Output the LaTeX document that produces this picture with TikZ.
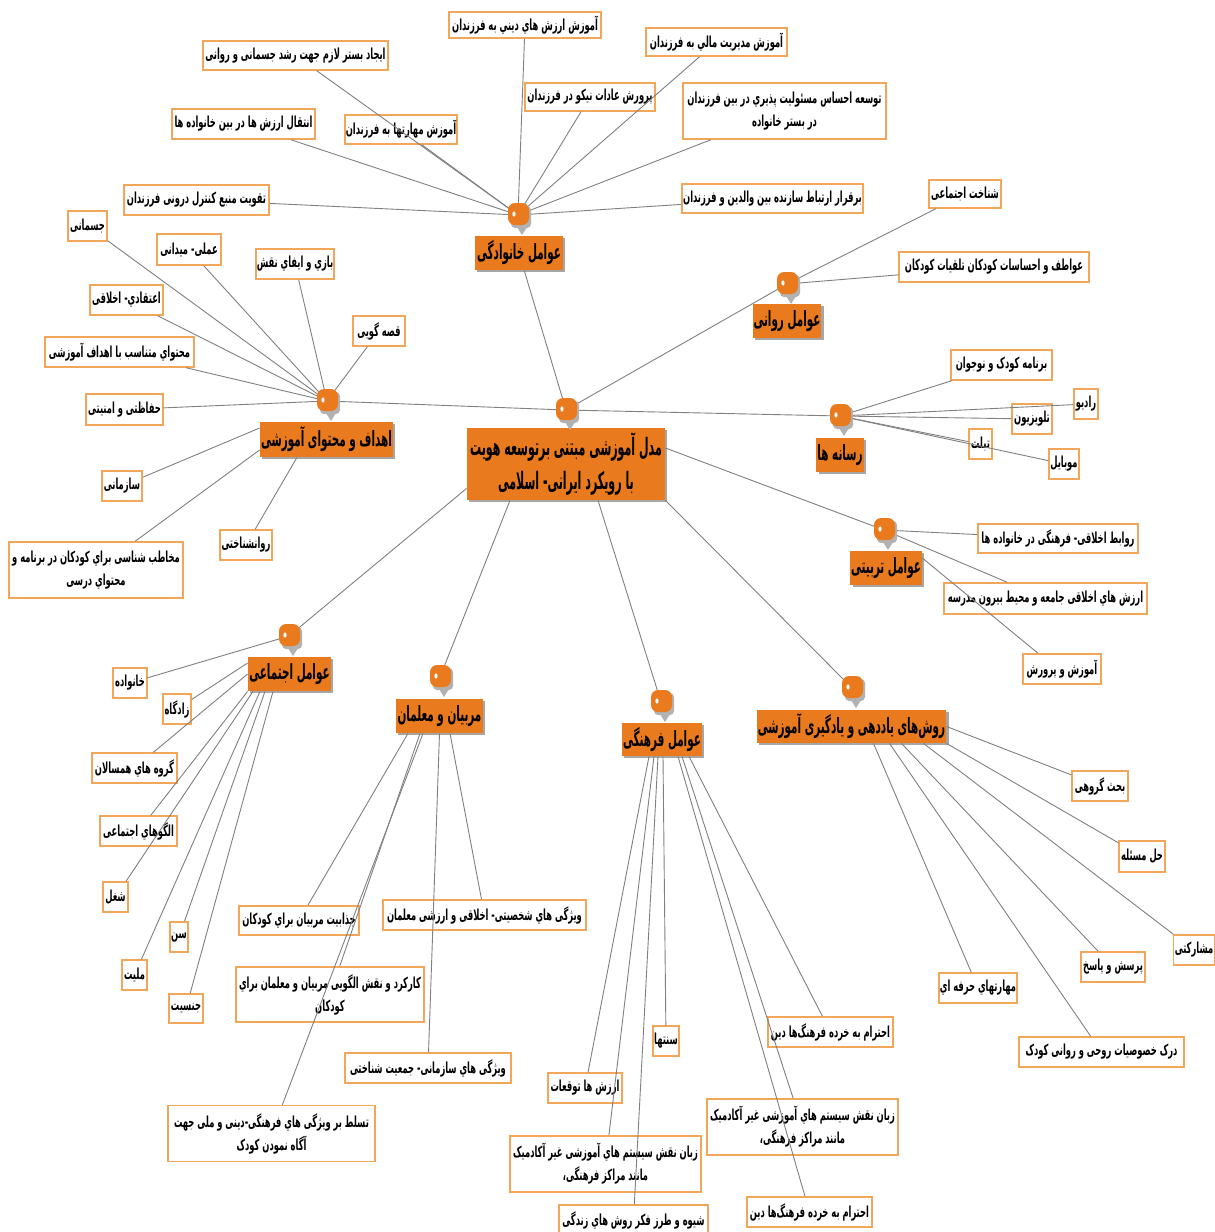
\documentclass[tikz,border=0pt]{standalone}
\usepackage{fontspec}
\newfontfamily\farsiL[Script=Arabic,FakeStretch=0.55]{DejaVu Sans}
\newfontfamily\farsiT[Script=Arabic,FakeStretch=0.495]{DejaVu Sans}
\newfontfamily\farsiM[Script=Arabic,FakeStretch=0.46]{DejaVu Sans}
\TeXXeTstate=1
\usetikzlibrary{shadows}
\definecolor{mainor}{HTML}{E97A1E}
\definecolor{leafor}{HTML}{F2A65A}
\definecolor{connc}{HTML}{808080}
\newcommand\pfa[1]{\beginR#1\endR}
\tikzset{
 leaf/.style={draw=leafor, fill=white, line width=0.75pt, inner sep=0.5pt, font=\farsiL\bfseries\fontsize{7.6}{11.5}\selectfont, align=center},
 topic/.style={fill=mainor, inner sep=0.5pt, font=\farsiT\bfseries\fontsize{10.5}{12}\selectfont, align=center, drop shadow={shadow xshift=1.2pt, shadow yshift=-1.2pt, fill=black!35, opacity=1}},
 sz/.style 2 args={minimum width=#1*0.5pt, minimum height=#2*0.5pt},
 link/.style={draw=connc, line width=0.45pt},
 hub/.pic={
  \fill[black!30, rounded corners=2pt] (-7,-9) rectangle (13,13);
  \fill[black!30] (-1,12) -- (9,12) -- (4,20) -- cycle;
  \fill[mainor, rounded corners=3.5pt] (-10,-12) rectangle (11,10);
  \fill[white] (-4,-1) ellipse (0.8pt and 1.3pt);
 }
}
\begin{document}
\begin{tikzpicture}[x=0.5pt,y=-0.5pt]
\fill[white] (0,0) rectangle (1215,1232);
\useasboundingbox (0,0) rectangle (1215,1232);
% ---- topics
\node[topic, sz={198}{72}, font=\farsiM\bfseries\fontsize{12}{17}\selectfont] (main) at (566,464) {\pfa{مدل آموزشی مبتنی برتوسعه هويت}\\\pfa{با رويكرد ايرانی- اسلامی}};
\node[topic, sz={88}{34}] (mF) at (519,253) {\pfa{عوامل خانوادگی}};
\node[topic, sz={68}{34}] (mR) at (787,321) {\pfa{عوامل روانی}};
\node[topic, sz={44}{34}] (mM) at (840,455) {\pfa{رسانه ها}};
\node[topic, sz={70}{34}] (mT) at (886,568) {\pfa{عوامل تربيتی}};
\node[topic, sz={189}{33}] (mRo) at (851.5,726.5) {\pfa{روش‌های یاددهی و یادگیری آموزشی}};
\node[topic, sz={80}{33}] (mC) at (662,739.5) {\pfa{عوامل فرهنگی}};
\node[topic, sz={87}{34}] (mTe) at (439.5,716) {\pfa{مربیان و معلمان}};
\node[topic, sz={83}{34}] (mS) at (289.5,674) {\pfa{عوامل اجتماعی}};
\node[topic, sz={133}{35}] (mA) at (326.5,439.5) {\pfa{اهداف و محتوای آموزشی}};
% ---- family leaves
\node[leaf, sz={152}{26}] (f1) at (525,25) {\pfa{آموزش ارزش هاي ديني به فرزندان}};
\node[leaf, sz={141}{28}] (f2) at (716.5,42) {\pfa{آموزش مديريت مالي به فرزندان}};
\node[leaf, sz={185}{29}] (f3) at (295.5,55.5) {\pfa{ايجاد بستر لازم جهت رشد جسمانی و روانی}};
\node[leaf, sz={130}{28}] (f4) at (590,97) {\pfa{پرورش عادات نيكو در فرزندان}};
\node[leaf, sz={203}{56}] (f5) at (784.5,111) {\pfa{توسعه احساس مسئوليت پذيري در بين فرزندان}\\\pfa{در بستر خانواده}};
\node[leaf, sz={143}{30}] (f6) at (243.5,124) {\pfa{انتقال ارزش ها در بين خانواده ها}};
\node[leaf, sz={112}{29}] (f7) at (401,129.5) {\pfa{آموزش مهارتها به فرزندان}};
\node[leaf, sz={145}{30}] (f8) at (196.5,200) {\pfa{تقويت منبع كنترل درونی فرزندان}};
\node[leaf, sz={177}{29}] (f9) at (772.5,198.5) {\pfa{برقرار ارتباط سازنده بين والدين و فرزندان}};
% ---- psych
\node[leaf, sz={72}{28}] (r1) at (965,194) {\pfa{شناخت اجتماعی}};
\node[leaf, sz={190}{30}] (r2) at (994,267) {\pfa{عواطف و احساسات كودكان تلقيات كودكان}};
% ---- media
\node[leaf, sz={101}{30}] (m1) at (1001.5,365) {\pfa{برنامه كودک و نوجوان}};
\node[leaf, sz={24}{30}] (m2) at (1086,404) {\pfa{راديو}};
\node[leaf, sz={40}{30}] (m3) at (1032,419) {\pfa{تلويزيون}};
\node[leaf, sz={23}{30}] (m4) at (980.5,444) {\pfa{تبلت}};
\node[leaf, sz={30}{30}] (m5) at (1064,464) {\pfa{موبايل}};
% ---- tarbiati
\node[leaf, sz={160}{29}] (t1) at (1058,538.5) {\pfa{روابط اخلاقی- فرهنگی در خانواده ها}};
\node[leaf, sz={203}{31}] (t2) at (1045.5,598.5) {\pfa{ارزش هاي اخلاقی جامعه و محيط بيرون مدرسه}};
\node[leaf, sz={78}{30}] (t3) at (1062,669) {\pfa{آموزش و پرورش}};
% ---- methods
\node[leaf, sz={56}{30}] (ro1) at (1100,786) {\pfa{بحث گروهی}};
\node[leaf, sz={46}{31}] (ro2) at (1142,856.5) {\pfa{حل مسئله}};
\node[leaf, sz={41}{30}] (ro3) at (1194,950) {\pfa{مشاركتی}};
\node[leaf, sz={64}{30}] (ro4) at (1113,967) {\pfa{پرسش و پاسخ}};
\node[leaf, sz={78}{30}] (ro5) at (978,988) {\pfa{مهارتهاي حرفه اي}};
\node[leaf, sz={165}{30}] (ro6) at (1101.5,1052) {\pfa{درک خصوصيات روحی و روانی كودک}};
% ---- cultural
\node[leaf, sz={125}{30}] (c1) at (830.5,1032) {\pfa{احترام به خرده فرهنگ‌ها دين}};
\node[leaf, sz={26}{30}] (c2) at (666,1041) {\pfa{سنتها}};
\node[leaf, sz={74}{30}] (c3) at (585,1088) {\pfa{ارزش ها توقعات}};
\node[leaf, sz={191}{56}] (c4) at (802.5,1127) {\pfa{زبان نقش سيستم هاي آموزشی غير آكادميک}\\\pfa{مانند مراكز فرهنگی،}};
\node[leaf, sz={191}{56}] (c5) at (605.5,1164) {\pfa{زبان نقش سيستم هاي آموزشی غير آكادميک}\\\pfa{مانند مراكز فرهنگی،}};
\node[leaf, sz={149}{30}] (c6) at (633.5,1220) {\pfa{شيوه و طرز فكر روش هاي زندگی}};
\node[leaf, sz={125}{30}] (c7) at (809.5,1212) {\pfa{احترام به خرده فرهنگ‌ها دين}};
% ---- teachers
\node[leaf, sz={120}{29}] (te1) at (299,920.5) {\pfa{جذابيت مربيان براي كودكان}};
\node[leaf, sz={203}{30}] (te2) at (484.5,915) {\pfa{ويژگی هاي شخصيتی- اخلاقی و ارزشی معلمان}};
\node[leaf, sz={188}{55}] (te3) at (330,994.5) {\pfa{كاركرد و نقش الگويی مربيان و معلمان براي}\\\pfa{كودكان}};
\node[leaf, sz={166}{30}] (te4) at (428,1068) {\pfa{ويژگی هاي سازمانی- جمعيت شناختی}};
\node[leaf, sz={207}{56}] (te5) at (271.5,1133.5) {\pfa{تسلط بر ويژگی هاي فرهنگی-دينی و ملی جهت}\\\pfa{آگاه نمودن كودک}};
% ---- social
\node[leaf, sz={34}{30}] (s1) at (130,683) {\pfa{خانواده}};
\node[leaf, sz={28}{30}] (s2) at (177,709) {\pfa{زادگاه}};
\node[leaf, sz={85}{30}] (s3) at (134.5,768) {\pfa{گروه هاي همسالان}};
\node[leaf, sz={77}{30}] (s4) at (138.5,831) {\pfa{الگوهاي اجتماعی}};
\node[leaf, sz={25}{30}] (s5) at (115.5,897) {\pfa{شغل}};
\node[leaf, sz={18}{30}] (s6) at (179,937) {\pfa{سن}};
\node[leaf, sz={25}{30}] (s7) at (134.5,975) {\pfa{مليت}};
\node[leaf, sz={34}{29}] (s8) at (186,1008.5) {\pfa{جنسيت}};
% ---- ahdaf
\node[leaf, sz={39}{30}] (a1) at (87.5,226) {\pfa{جسمانی}};
\node[leaf, sz={64}{31}] (a2) at (189,249.5) {\pfa{عملی- ميدانی}};
\node[leaf, sz={78}{30}] (a3) at (295,264) {\pfa{بازي و ايفاي نقش}};
\node[leaf, sz={73}{30}] (a4) at (126.5,300) {\pfa{اعتقادي- اخلاقی}};
\node[leaf, sz={52}{30}] (a5) at (379,331) {\pfa{قصه گويی}};
\node[leaf, sz={149}{30}] (a6) at (119.5,352) {\pfa{محتواي متناسب با اهداف آموزشی}};
\node[leaf, sz={77}{31}] (a7) at (124.5,409.5) {\pfa{حفاظتی و امنيتی}};
\node[leaf, sz={40}{30}] (a8) at (122,486) {\pfa{سازمانی}};
\node[leaf, sz={174}{56}] (a9) at (96,570) {\pfa{مخاطب شناسی براي كودكان در برنامه و}\\\pfa{محتواي درسی}};
\node[leaf, sz={52}{30}] (a10) at (246,545) {\pfa{روانشناختی}};
% ---- hubs
\coordinate (hC) at (566,410);
\coordinate (hF) at (518,215);
\coordinate (hR) at (787,284);
\coordinate (hM) at (840,416);
\coordinate (hT) at (884,530);
\coordinate (hRo) at (852,688);
\coordinate (hCu) at (661,702);
\coordinate (hTe) at (440,677);
\coordinate (hS) at (289,636);
\coordinate (hA) at (327,401);
% ---- connectors
\draw[link] (hA) -- (hC);
\draw[link] (hC) -- (hM);
\draw[link] (hC) -- (hR);
\draw[link] (hC) -- (mF);
\draw[link] ([yshift=8pt]main.east) -- (hT);
\draw[link] (main.south east) -- (hRo);
\draw[link] ([xshift=16pt]main.south) -- (hCu);
\draw[link] ([xshift=-28pt]main.south) -- (hTe);
\draw[link] ([yshift=6pt]main.south west) -- (hS);
\foreach \n in {f1,f2,f3,f4,f5,f6,f7,f8,f9} \draw[link] (hF) -- (\n);
\foreach \n in {r1,r2} \draw[link] (hR) -- (\n);
\foreach \n in {m1,m2,m3,m4,m5} \draw[link] (hM) -- (\n);
\foreach \n in {t1,t2} \draw[link] (hT) -- (\n);
\draw[link] ([yshift=5pt]mT.east) -- ([xshift=-12pt]t3.north);
\draw[link] (mRo.east) -- (ro1);
\draw[link] (mRo.south east) -- (ro2);
\draw[link] ([xshift=36pt]mRo.south) -- (ro3);
\draw[link] ([xshift=25pt]mRo.south) -- (ro4);
\draw[link] ([xshift=11pt]mRo.south) -- (ro5);
\draw[link] ([xshift=19pt]mRo.south) -- (ro6);
\draw[link] ([xshift=-6.5pt]mC.south) -- (c3);
\draw[link] ([xshift=-4pt]mC.south) -- (c5);
\draw[link] ([xshift=-2pt]mC.south) -- (c6);
\draw[link] ([xshift=0.5pt]mC.south) -- (c2);
\draw[link] ([xshift=8pt]mC.south) -- (c7);
\draw[link] ([xshift=10pt]mC.south) -- (c4);
\draw[link] ([xshift=13.5pt]mC.south) -- (c1);
\draw[link] ([xshift=-15.75pt]mTe.south) -- (te1);
\draw[link] ([xshift=5.25pt]mTe.south) -- (te2);
\draw[link] ([xshift=-9.75pt]mTe.south) -- (te3);
\draw[link] (mTe.south) -- (te4);
\draw[link] ([xshift=-8.25pt]mTe.south) -- (te5);
\draw[link] (hS) -- (s1);
\draw[link] ([yshift=5.5pt]mS.west) -- (s2);
\draw[link] (mS.west) -- (s3);
\draw[link] (mS.south west) -- (s4);
\draw[link] ([xshift=-18.25pt]mS.south) -- (s5);
\draw[link] ([xshift=-12.25pt]mS.south) -- (s6);
\draw[link] ([xshift=-14.75pt]mS.south) -- (s7);
\draw[link] ([xshift=-8.25pt]mS.south) -- (s8);
\foreach \n in {a1,a2,a3,a4,a5,a6,a7} \draw[link] (hA) -- (\n);
\draw[link] ([yshift=5.75pt]mA.west) -- (a8);
\draw[link] ([yshift=-5.25pt]mA.west) -- (a9);
\draw[link] ([xshift=-14.75pt]mA.south) -- (a10);
% ---- hub glyphs
\foreach \h in {hC,hF,hR,hM,hT,hRo,hCu,hTe,hS,hA} \pic at (\h) {hub};
\end{tikzpicture}
\end{document}
